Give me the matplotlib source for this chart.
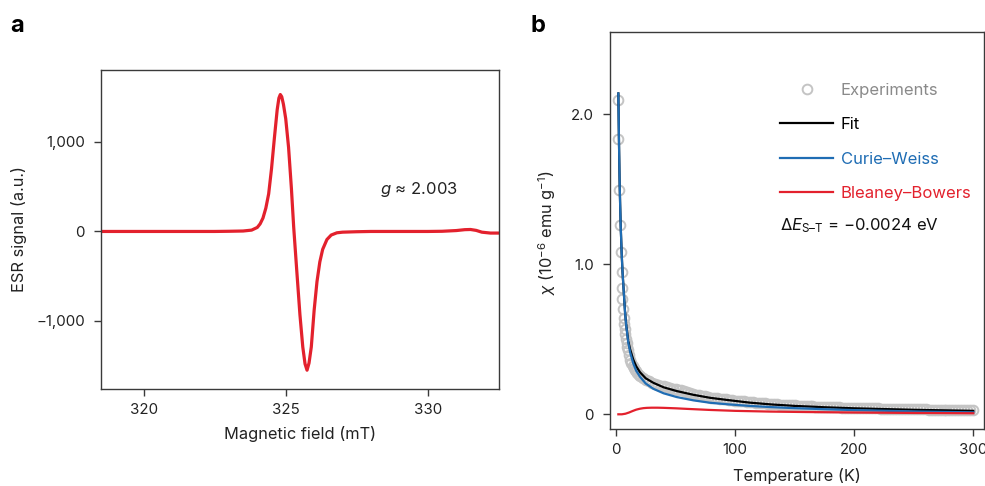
import matplotlib
matplotlib.use("Agg")
import matplotlib.pyplot as plt
from matplotlib.lines import Line2D
from matplotlib.ticker import FuncFormatter

plt.rcParams['font.family'] = ['Inter', 'DejaVu Sans']
plt.rcParams['mathtext.fontset'] = 'custom'
plt.rcParams['mathtext.rm'] = 'Inter'
plt.rcParams['mathtext.it'] = 'Inter:italic'
plt.rcParams['axes.unicode_minus'] = True

# ---- panel a: ESR spectrum ----
field_mT = [318.5, 319.5, 320.5, 321.5, 322.5, 323.0, 323.5, 323.8, 324.0, 324.1,
            324.2, 324.3, 324.4, 324.5, 324.6, 324.7, 324.76, 324.81, 324.86, 324.92,
            325.0, 325.1, 325.2, 325.28, 325.38, 325.5, 325.6, 325.68, 325.75, 325.82,
            325.9, 326.0, 326.1, 326.2, 326.3, 326.45, 326.6, 326.8, 327.0, 327.5,
            328.0, 329.0, 330.0, 330.5, 331.0, 331.3, 331.5, 331.7, 331.9, 332.2, 332.5]
esr_signal = [0, 0, 0, 0, 0, 2, 5, 15, 45, 85,
              150, 260, 420, 700, 1040, 1360, 1490, 1530, 1505, 1420,
              1260, 940, 480, 50, -400, -930, -1290, -1480, -1550, -1470,
              -1290, -880, -560, -340, -200, -90, -40, -15, -8, -3,
              0, 0, 0, 2, 10, 20, 22, 12, -8, -18, -18]

# ---- panel b: susceptibility ----
exp_T = [1.8, 2.0, 2.5, 3.3, 4.1, 4.9, 5.1, 5.4, 5.9, 6.4,
         7, 7.5, 8, 8.5, 9, 9.5, 10, 11, 12, 13, 14, 15, 16, 17, 18, 19, 20,
         22.5, 25, 27.5, 30, 32.5, 35, 37.5, 40, 42.5, 45, 47.5, 50, 52.5, 55, 57.5,
         60, 62.5, 65, 67.5, 70, 72.5, 75, 77.5, 80, 82.5, 85, 87.5, 90, 92.5, 95, 97.5,
         100, 102.5, 105, 107.5, 110, 112.5, 115, 117.5, 120, 122.5, 125, 127.5,
         130, 132.5, 135, 137.5, 140, 142.5, 145, 147.5, 150, 152.5, 155, 157.5,
         160, 162.5, 165, 167.5, 170, 172.5, 175, 177.5, 180, 182.5, 185, 187.5,
         190, 192.5, 195, 197.5, 200, 202.5, 205, 207.5, 210, 212.5, 215, 217.5,
         220, 222.5, 225, 227.5, 230, 232.5, 235, 237.5, 240, 242.5, 245, 247.5,
         250, 252.5, 255, 257.5, 260, 262.5, 265, 267.5, 270, 272.5, 275, 277.5,
         280, 282.5, 285, 287.5, 290, 292.5, 295, 297.5, 300]
exp_chi = [2.095, 1.833, 1.495, 1.262, 1.084, 0.949, 0.842, 0.767, 0.700, 0.640,
           0.600, 0.570, 0.535, 0.505, 0.475, 0.450, 0.430, 0.395, 0.365, 0.342,
           0.325, 0.310, 0.297, 0.286, 0.275, 0.265, 0.257,
           0.245, 0.232, 0.222, 0.212, 0.204, 0.197, 0.191, 0.186, 0.181, 0.177,
           0.172, 0.168, 0.165, 0.162, 0.155,
           0.148, 0.142, 0.137, 0.132, 0.127, 0.123, 0.119, 0.115, 0.112, 0.109,
           0.106, 0.103, 0.101, 0.099, 0.097, 0.094,
           0.090, 0.089, 0.087, 0.086, 0.085, 0.081, 0.079, 0.077, 0.076, 0.074,
           0.073, 0.071,
           0.070, 0.068, 0.067, 0.065, 0.064, 0.063, 0.061, 0.060, 0.059, 0.058,
           0.057, 0.056,
           0.055, 0.054, 0.053, 0.052, 0.051, 0.050, 0.050, 0.049, 0.048, 0.047,
           0.047, 0.046,
           0.045, 0.045, 0.044, 0.043, 0.043, 0.042, 0.042, 0.041, 0.041, 0.040,
           0.040, 0.039,
           0.039, 0.038, 0.038, 0.038, 0.037, 0.037, 0.036, 0.036, 0.036, 0.035,
           0.035, 0.035,
           0.034, 0.034, 0.033, 0.033, 0.033, 0.032, 0.032, 0.032, 0.031, 0.031,
           0.030, 0.030,
           0.030, 0.029, 0.029, 0.029, 0.028, 0.028, 0.028, 0.027, 0.027]

line_T = [2.0, 2.3, 2.6, 3.0, 3.5, 4.0, 4.8, 5.5, 6.2, 7.0, 7.6, 8.5, 9.5, 10.3,
          12, 14.5, 17, 20.2, 25, 31.4, 40, 51, 65, 79, 95, 112, 130, 150, 175,
          200, 250, 300]
fit_chi = [2.14, 1.95, 1.78, 1.58, 1.40, 1.25, 1.07, 0.95, 0.86, 0.76, 0.685,
           0.605, 0.54, 0.49, 0.43, 0.365, 0.32, 0.28, 0.24, 0.21, 0.18, 0.155,
           0.13, 0.11, 0.094, 0.078, 0.066, 0.056, 0.047, 0.040, 0.030, 0.023]
cw_chi = [2.14, 1.95, 1.78, 1.58, 1.40, 1.25, 1.07, 0.95, 0.86, 0.76, 0.68,
          0.60, 0.53, 0.48, 0.41, 0.34, 0.29, 0.25, 0.205, 0.17, 0.14, 0.115,
          0.093, 0.077, 0.066, 0.056, 0.048, 0.041, 0.034, 0.028, 0.019, 0.013]
bb_T = [2, 5, 8, 11, 14, 17, 20, 23, 26, 30, 35, 40, 50, 60, 79, 100, 130,
        160, 200, 250, 300]
bb_chi = [0.0, 0.0, 0.004, 0.012, 0.022, 0.031, 0.037, 0.041, 0.043, 0.044,
          0.044, 0.043, 0.040, 0.036, 0.029, 0.023, 0.018, 0.015, 0.012, 0.009,
          0.007]

red = '#e3212d'
blue = '#1f6db4'
grey = '#c4c4c4'
spine_c = '#3a3a3a'
MINUS = '\u2212'
NDASH = '\u2013'

fig = plt.figure(figsize=(9.85, 4.86), dpi=100)
ax1 = fig.add_axes([0.1025, 0.1996, 0.404, 0.6564])
ax2 = fig.add_axes([0.6193, 0.1173, 0.3797, 0.8169])

for ax in (ax1, ax2):
    for s in ax.spines.values():
        s.set_color(spine_c)
        s.set_linewidth(1.0)
    ax.tick_params(direction='out', length=5, width=1.0, color=spine_c,
                   labelsize=10.8, labelcolor='#222222')
    ax.tick_params(axis='y', pad=6.5)
    ax.tick_params(axis='x', pad=5)

# panel a
ax1.plot(field_mT, esr_signal, color=red, lw=2.3, solid_joinstyle='round')
ax1.set_xlim(318.5, 332.5)
ax1.set_ylim(-1760, 1804)
ax1.set_xticks([320, 325, 330])
ax1.set_yticks([-1000, 0, 1000])
ax1.yaxis.set_major_formatter(FuncFormatter(lambda v, p: f"{v:,.0f}".replace('-', MINUS)))
ax1.set_xlabel('Magnetic field (mT)', fontsize=11.8, color='#222222')
ax1.set_ylabel('ESR signal (a.u.)', fontsize=11.8, color='#222222')
ax1.xaxis.set_label_coords(0.5, -0.116)
ax1.yaxis.set_label_coords(-0.185, 0.5)
ax1.text(328.3, 470, r'$g$ ' + '\u2248 2.003', fontsize=12,
         ha='left', va='center', color='#222222')

# panel b
ax2.plot(exp_T, exp_chi, 'o', ms=7, mfc='none', mec=grey, mew=1.4, zorder=1)
ax2.plot(line_T, fit_chi, color='black', lw=1.6, zorder=2)
ax2.plot(line_T, cw_chi, color=blue, lw=1.6, zorder=3)
ax2.plot(bb_T, bb_chi, color=red, lw=1.6, zorder=3)
ax2.set_xlim(-5, 309)
ax2.set_ylim(-0.098, 2.55)
ax2.set_xticks([0, 100, 200, 300])
ax2.set_yticks([0, 1.0, 2.0])
ax2.yaxis.set_major_formatter(FuncFormatter(lambda v, p: '0' if v == 0 else f"{v:.1f}"))
ax2.set_xlabel('Temperature (K)', fontsize=11.8, color='#222222')
ax2.set_ylabel(r'$\chi$ (10$^{\mathregular{' + MINUS + r'6}}$ emu g$^{\mathregular{' + MINUS + r'1}}$)',
               fontsize=11.8, color='#222222')
ax2.xaxis.set_label_coords(0.5, -0.098)
ax2.yaxis.set_label_coords(-0.139, 0.496)

handles = [Line2D([], [], ls='none', marker='o', ms=7, mfc='none', mec=grey, mew=1.4),
           Line2D([], [], color='black', lw=1.6),
           Line2D([], [], color=blue, lw=1.6),
           Line2D([], [], color=red, lw=1.6)]
labels = ['Experiments', 'Fit', 'Curie' + NDASH + 'Weiss', 'Bleaney' + NDASH + 'Bowers']
leg = ax2.legend(handles, labels, loc='upper left', bbox_to_anchor=(0.4545, 0.872),
                 frameon=False, handlelength=3.2, handletextpad=0.45,
                 labelspacing=1.17, borderpad=0, borderaxespad=0, fontsize=12,
                 numpoints=1)
for t, c in zip(leg.get_texts(), ['#8a8a8a', 'black', blue, red]):
    t.set_color(c)
ax2.text(0.4545, 0.512, r'$\Delta E_{\mathregular{S' + NDASH + r'T}}$ = ' + MINUS + '0.0024 eV',
         transform=ax2.transAxes, fontsize=12, ha='left', va='center', color='#111111')

fig.text(10 / 985, 1 - 32 / 486, 'a', fontsize=17, fontweight='bold', ha='left', va='baseline')
fig.text(531 / 985, 1 - 32 / 486, 'b', fontsize=17, fontweight='bold', ha='left', va='baseline')

fig.savefig('out.png', dpi=100)
